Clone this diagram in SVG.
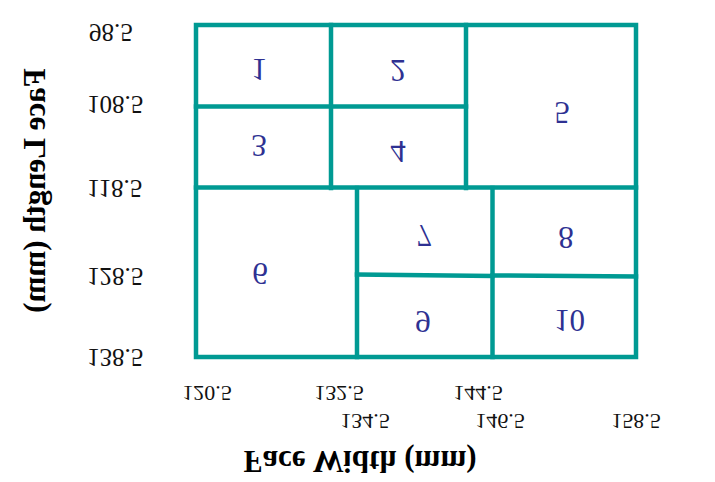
<svg xmlns="http://www.w3.org/2000/svg" width="715" height="482" viewBox="0 0 715 482">
<style>
.g{stroke:#009a93;stroke-width:4.5;fill:none;stroke-linecap:square}
.n{font-family:"Liberation Serif",serif;font-size:31px;fill:#2e3192;text-anchor:middle}
.t{font-family:"Liberation Serif",serif;font-size:25px;fill:#111;text-anchor:start}
.x{font-family:"Liberation Serif",serif;font-size:22px;fill:#111;text-anchor:middle}
.a{font-family:"Liberation Serif",serif;font-size:31px;font-weight:bold;fill:#000;text-anchor:middle}
</style>
<rect width="715" height="482" fill="#fff"/>
<g id="grid">
<rect class="g" x="196" y="25" width="440" height="332"/>
<line class="g" x1="196" y1="106.5" x2="466" y2="106.5"/>
<line class="g" x1="196" y1="187.5" x2="636" y2="187.5"/>
<line class="g" x1="331" y1="25" x2="331" y2="188"/>
<line class="g" x1="466" y1="25" x2="466" y2="188"/>
<line class="g" x1="357" y1="188" x2="357" y2="357"/>
<line class="g" x1="492.5" y1="188" x2="492.5" y2="357"/>
<line class="g" x1="357" y1="274.5" x2="492.5" y2="276"/>
<line class="g" x1="492.5" y1="275.5" x2="636" y2="276.5"/>
</g>
<g id="cell1"><text class="n" transform="translate(259,69) scale(1,-1)" y="10.5">1</text></g>
<g id="cell2"><text class="n" transform="translate(398,70) scale(1,-1)" y="10.5">2</text></g>
<g id="cell3"><text class="n" transform="translate(259,145) scale(1,-1)" y="10.5">3</text></g>
<g id="cell4"><text class="n" transform="translate(398,151) scale(1,-1)" y="10.5">4</text></g>
<g id="cell5"><text class="n" transform="translate(562,112) scale(1,-1)" y="10.5">5</text></g>
<g id="cell6"><text class="n" transform="translate(260,273) scale(1,-1)" y="10.5">6</text></g>
<g id="cell7"><text class="n" transform="translate(424,235) scale(1,-1)" y="10.5">7</text></g>
<g id="cell8"><text class="n" transform="translate(566,237) scale(1,-1)" y="10.5">8</text></g>
<g id="cell9"><text class="n" transform="translate(423,321) scale(1,-1)" y="10.5">9</text></g>
<g id="cell10"><text class="n" transform="translate(569.5,320) scale(1,-1)" y="10.5">10</text></g>
<g id="yticks">
<text class="t" transform="translate(89,32.5) scale(1,-1)" y="8.5">98.5</text>
<text class="t" transform="translate(87,104) scale(1,-1)" y="8.5">108.5</text>
<text class="t" transform="translate(87,188) scale(1,-1)" y="8.5">118.5</text>
<text class="t" transform="translate(87,276) scale(1,-1)" y="8.5">128.5</text>
<text class="t" transform="translate(87,357) scale(1,-1)" y="8.5">138.5</text>
</g>
<g id="xticks">
<text class="x" transform="translate(207,393.5) scale(1,-1)" y="7.4">120.5</text>
<text class="x" transform="translate(339,393.5) scale(1,-1)" y="7.4">132.5</text>
<text class="x" transform="translate(478,393.5) scale(1,-1)" y="7.4">144.5</text>
<text class="x" transform="translate(365,421) scale(1,-1)" y="7.4">134.5</text>
<text class="x" transform="translate(500,421) scale(1,-1)" y="7.4">146.5</text>
<text class="x" transform="translate(636,421) scale(1,-1)" y="7.4">158.5</text>
</g>
<g id="axis-titles">
<text class="a" transform="translate(360,461) scale(1,-1)" y="10.5">Face Width (mm)</text>
<text class="a" transform="translate(34,190.5) scale(1,-1) rotate(-90)" y="10.5">Face Length (mm)</text>
</g>
</svg>
